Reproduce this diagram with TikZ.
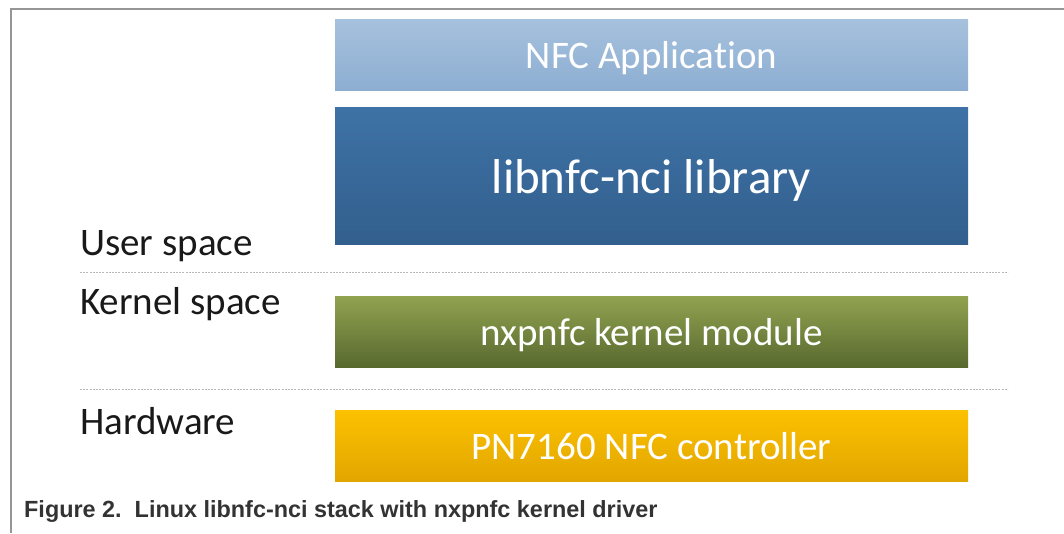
\documentclass[tikz,border=0pt]{standalone}
\usepackage{fontspec}
\setmainfont{Carlito}[Ligatures=NoCommon]
\newfontfamily\capfont{Liberation Sans}
\begin{document}
\begin{tikzpicture}[x=1pt,y=-1pt,
  layer/.style={inner sep=0pt, minimum width=633pt, text=white, text depth=0pt, font=\fontsize{39}{45}\selectfont},
  sidelabel/.style={anchor=base west, inner sep=0pt, text=black!90, font=\fontsize{39}{45}\selectfont},
  sep/.style={draw=black!28, line width=0.8pt, dash pattern=on 2pt off 1.2pt}
]
\definecolor{apptop}{RGB}{166,193,221}
\definecolor{appbot}{RGB}{141,174,210}
\definecolor{libtop}{RGB}{62,114,166}
\definecolor{libbot}{RGB}{50,95,141}
\definecolor{kertop}{RGB}{145,163,80}
\definecolor{kerbot}{RGB}{88,105,47}
\definecolor{hwtop}{RGB}{252,193,0}
\definecolor{hwbot}{RGB}{226,166,0}
\definecolor{framegray}{RGB}{150,150,150}
\useasboundingbox (0,0) rectangle (1064,533);
% frame
\draw[framegray, line width=1.3pt] (11,533) -- (11,9) -- (1064,9);
% layers
\node[layer, minimum height=71pt, top color=apptop, bottom color=appbot] (app) at (651.5,54.5) {NFC Application};
\node[layer, minimum height=137.5pt, top color=libtop, bottom color=libbot, font=\fontsize{49}{56}\selectfont] (lib) at (651.5,176) {libnfc-nci library};
\node[layer, minimum height=71pt, top color=kertop, bottom color=kerbot] (ker) at (651.5,331.5) {nxpnfc kernel module};
\node[layer, minimum height=71pt, top color=hwtop, bottom color=hwbot] (hw) at (651.5,445.5) {PN7160 NFC controller};
% side labels
\node[sidelabel] (user) at (80,255) {User space};
\node[sidelabel] (kern) at (80,314) {Kernel space};
\node[sidelabel] (hard) at (80,434) {Hardware};
% separators
\coordinate (s1a) at (80,272); \coordinate (s1b) at (1008,272);
\coordinate (s2a) at (80,389); \coordinate (s2b) at (1008,389);
\draw[sep] (s1a) -- (s1b);
\draw[sep] (s2a) -- (s2b);
% caption
\node[anchor=base west, inner sep=0pt, text=black!80, font=\capfont\bfseries\fontsize{23.4}{28}\selectfont] (cap) at (24,517) {Figure 2.\ \ Linux libnfc-nci stack with nxpnfc kernel driver};
\end{tikzpicture}
\end{document}
